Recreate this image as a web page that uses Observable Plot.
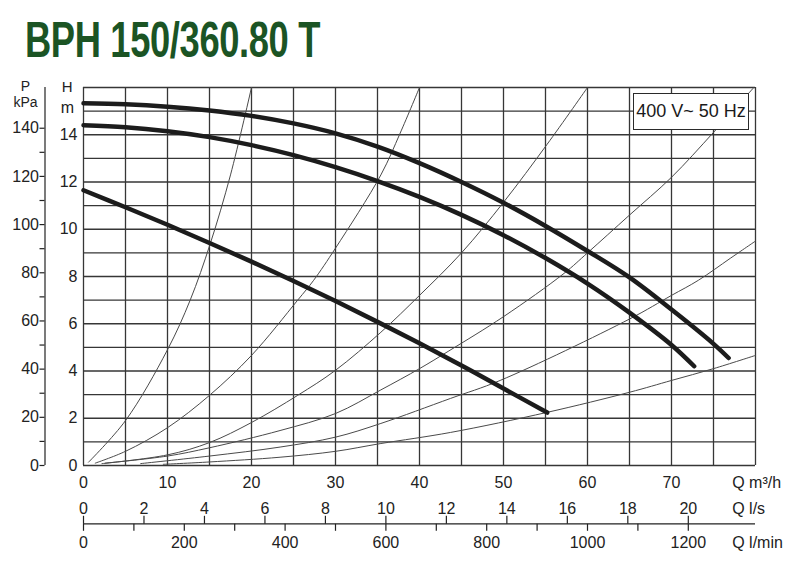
<!DOCTYPE html>
<html><head><meta charset="utf-8">
<script src="https://cdn.jsdelivr.net/npm/d3@7"></script>
<script src="https://cdn.jsdelivr.net/npm/@observablehq/plot@0.6"></script>
<style>
html,body{margin:0;padding:0;background:#fff;width:800px;height:565px;overflow:hidden;position:relative;}
#title{position:absolute;left:25px;top:15px;font:bold 50px "Liberation Sans",Arial,sans-serif;color:#1b5424;line-height:50px;white-space:nowrap;transform-origin:0 0;display:inline-block;letter-spacing:-0.5px;}
#chart{position:absolute;left:0;top:70px;}
#badge{position:absolute;left:633px;top:93px;width:116px;height:37px;box-sizing:border-box;border:1.5px solid #2a2a2a;background:#fff;font:18px "Liberation Sans",Arial,sans-serif;color:#1a1a1a;display:flex;align-items:center;justify-content:center;}
</style></head><body>
<div id="title">BPH 150/360.80 T</div>
<div id="chart"></div>
<div id="badge">400 V~ 50 Hz</div>
<script>
// ---- tick values ----
const qTicks = [0, 10, 20, 30, 40, 50, 60, 70];              // Q m3/h labels
const lsTicks = [0, 2, 4, 6, 8, 10, 12, 14, 16, 18, 20];     // Q l/s
const lminTicks = [0, 100, 200, 300, 400, 500, 600, 700, 800, 900, 1000, 1100, 1200]; // Q l/min ticks
const lminLabels = [0, 200, 400, 600, 800, 1000, 1200];      // Q l/min labels
const hTicks = [0, 2, 4, 6, 8, 10, 12, 14];                  // H m
const pTicks = [0, 20, 40, 60, 80, 100, 120, 140];           // P kPa labels
const pMinor = [10, 30, 50, 70, 90, 110, 130];               // P kPa minor ticks
const gridQ = [0, 5, 10, 15, 20, 25, 30, 35, 40, 45, 50, 55, 60, 65, 70, 75, 80];
const gridH = [0, 1, 2, 3, 4, 5, 6, 7, 8, 9, 10, 11, 12, 13, 14, 15, 16];

// ---- pump curves (Q m3/h, H m) ----
const pumpMaxQ = [0, 5, 10, 15, 20, 25, 30, 35, 40, 45, 50, 55, 60, 65, 70, 75, 76.8];
const pumpMaxH = [15.33, 15.29, 15.19, 15.03, 14.8, 14.48, 14.06, 13.5, 12.8, 12.0, 11.12, 10.14, 9.08, 7.96, 6.6, 5.15, 4.55];
const pumpMidQ = [0, 5, 10, 15, 20, 25, 30, 35, 40, 45, 50, 55, 60, 65, 70, 72.7];
const pumpMidH = [14.4, 14.32, 14.15, 13.9, 13.56, 13.14, 12.63, 12.04, 11.37, 10.61, 9.75, 8.78, 7.7, 6.47, 5.1, 4.2];
const pumpMinQ = [0, 5, 10, 15, 20, 25, 30, 35, 40, 45, 50, 55.2];
const pumpMinH = [11.65, 10.93, 10.19, 9.42, 8.63, 7.81, 6.96, 6.08, 5.17, 4.23, 3.26, 2.24];

// ---- system curves ----
const sysAQ = [0.6, 5, 10, 12.7, 15.1, 17.5, 20];
const sysAH = [0.14, 1.9, 4.9, 7.0, 9.4, 12.3, 16];
const sysBQ = [1.4, 5, 10, 15, 20, 25.5, 27.4, 30, 35.4, 37.7, 40];
const sysBH = [0.1, 0.6, 1.6, 2.97, 4.66, 7.0, 7.84, 9.2, 12.3, 14.07, 16];
const sysCQ = [2.2, 10, 15, 20, 25.5, 30, 35.4, 40, 45, 50, 55.2, 60];
const sysCH = [0.08, 0.45, 0.97, 1.82, 2.97, 4.03, 5.64, 7.2, 9.0, 11.14, 13.6, 16];
const sysDQ = [2.6, 10, 15, 23.4, 30, 35.4, 40, 43.5, 50, 57.2, 60, 65, 70, 75, 79.8];
const sysDH = [0.1, 0.4, 0.75, 1.48, 2.2, 3.2, 4.1, 4.85, 6.3, 8.13, 9.0, 10.6, 12.2, 14.1, 16];
const sysEQ = [6.8, 15, 23.4, 30, 35.4, 43.7, 49.6, 65, 70, 73.2, 77, 80];
const sysEH = [0.08, 0.4, 0.78, 1.2, 1.78, 2.84, 3.6, 6.2, 7.2, 7.84, 8.77, 9.5];
const sysFQ = [9.5, 15, 23.4, 30, 35.4, 43.7, 55.2, 65, 70, 75, 80];
const sysFH = [0.05, 0.15, 0.35, 0.6, 0.93, 1.4, 2.25, 3.1, 3.6, 4.1, 4.66];

const G = 9.80665; // kPa per m of water
const rows = (Q, H, id) => Q.map((q, i) => ({q, h: H[i], id}));
const pumpRows = [...rows(pumpMaxQ, pumpMaxH, "max"), ...rows(pumpMidQ, pumpMidH, "mid"), ...rows(pumpMinQ, pumpMinH, "min")];
const sysRows = [...rows(sysAQ, sysAH, "A"), ...rows(sysBQ, sysBH, "B"), ...rows(sysCQ, sysCH, "C"),
                 ...rows(sysDQ, sysDH, "D"), ...rows(sysEQ, sysEH, "E"), ...rows(sysFQ, sysFH, "F")];

const tickUp = {draw(ctx) { ctx.moveTo(0, 0); ctx.lineTo(0, -8); }};
const tickDown = {draw(ctx) { ctx.moveTo(0, 0); ctx.lineTo(0, 7); }};
const ink = "#222";
const font = '"Liberation Sans", Arial, sans-serif';

const chart = Plot.plot({
  width: 800, height: 495,
  marginTop: 17, marginBottom: 100, marginLeft: 83, marginRight: 45,
  style: {fontFamily: font, fontSize: "16px", color: ink, background: "transparent"},
  x: {domain: [0, 80], axis: null},
  y: {domain: [0, 16]},
  marks: [
    Plot.ruleX(gridQ, {stroke: "#363636", strokeWidth: 1.3}),
    Plot.ruleY(gridH, {stroke: "#363636", strokeWidth: 1.3}),
    Plot.line(sysRows, {x: "q", y: "h", z: "id", curve: "catmull-rom", stroke: "#4a4a4a", strokeWidth: 1}),
    Plot.line(pumpRows, {x: "q", y: "h", z: "id", curve: "catmull-rom", stroke: "#1c1c1c", strokeWidth: 4.5, strokeLinecap: "round"}),
    // H axis
    Plot.axisY(hTicks, {tickSize: 0, tickPadding: 6, fontSize: 16, label: null}),
    // P axis (kPa)
    Plot.ruleX([0], {dx: -38.5, stroke: ink, strokeWidth: 1.2}),
    Plot.axisY(pMinor.map(p => p / G), {tickSize: 5, dx: -38.5, tickFormat: () => "", label: null, strokeWidth: 1.2}),
    Plot.axisY(pTicks.map(p => p / G), {tickSize: 5, tickPadding: 1, dx: -38.5, fontSize: 16, tickFormat: d => String(Math.round(d * G)), label: null, strokeWidth: 1.2}),
    Plot.text(["P"], {text: d => d, frameAnchor: "top-left", textAnchor: "middle", lineAnchor: "bottom", dx: -58, dy: 3.5, fontSize: 14}),
    Plot.text(["kPa"], {text: d => d, frameAnchor: "top-left", textAnchor: "middle", lineAnchor: "bottom", dx: -58, dy: 19.5, fontSize: 14}),
    Plot.text(["H"], {text: d => d, frameAnchor: "top-left", textAnchor: "middle", lineAnchor: "bottom", dx: -16.3, dy: 4.3, fontSize: 15}),
    Plot.text(["m"], {text: d => d, frameAnchor: "top-left", textAnchor: "middle", lineAnchor: "bottom", dx: -16, dy: 25.7, fontSize: 16}),
    // Q m3/h axis
    Plot.text(qTicks, {x: d => d, text: d => String(d), frameAnchor: "bottom", lineAnchor: "bottom", dy: 22.4}),
    Plot.text(["Q m³/h"], {text: d => d, frameAnchor: "bottom-right", textAnchor: "start", lineAnchor: "bottom", dx: -23.3, dy: 22.4}),
    // Q l/s and l/min shared axis
    Plot.ruleY([0], {dy: 58.3, stroke: ink, strokeWidth: 1.2}),
    Plot.dot(lsTicks, {x: d => d * 3.6, frameAnchor: "bottom", dy: 58.3, symbol: tickUp, stroke: ink, fill: "none", strokeWidth: 1.2}),
    Plot.dot(lminTicks, {x: d => d * 0.06, frameAnchor: "bottom", dy: 58.3, symbol: tickDown, stroke: ink, fill: "none", strokeWidth: 1.2}),
    Plot.text(lsTicks, {x: d => d * 3.6, text: d => String(d), frameAnchor: "bottom", lineAnchor: "bottom", dy: 48.3}),
    Plot.text(lminLabels, {x: d => d * 0.06, text: d => String(d), frameAnchor: "bottom", lineAnchor: "bottom", dy: 82.7}),
    Plot.text(["Q l/s"], {text: d => d, frameAnchor: "bottom-right", textAnchor: "start", lineAnchor: "bottom", dx: -23.3, dy: 48.8}),
    Plot.text(["Q l/min"], {text: d => d, frameAnchor: "bottom-right", textAnchor: "start", lineAnchor: "bottom", dx: -23.3, dy: 82.7})
  ]
});
document.getElementById("chart").append(chart);

const title = document.getElementById("title");
const w = title.getBoundingClientRect().width;
title.style.transform = `scaleX(${295 / w})`;
</script>
</body></html>
